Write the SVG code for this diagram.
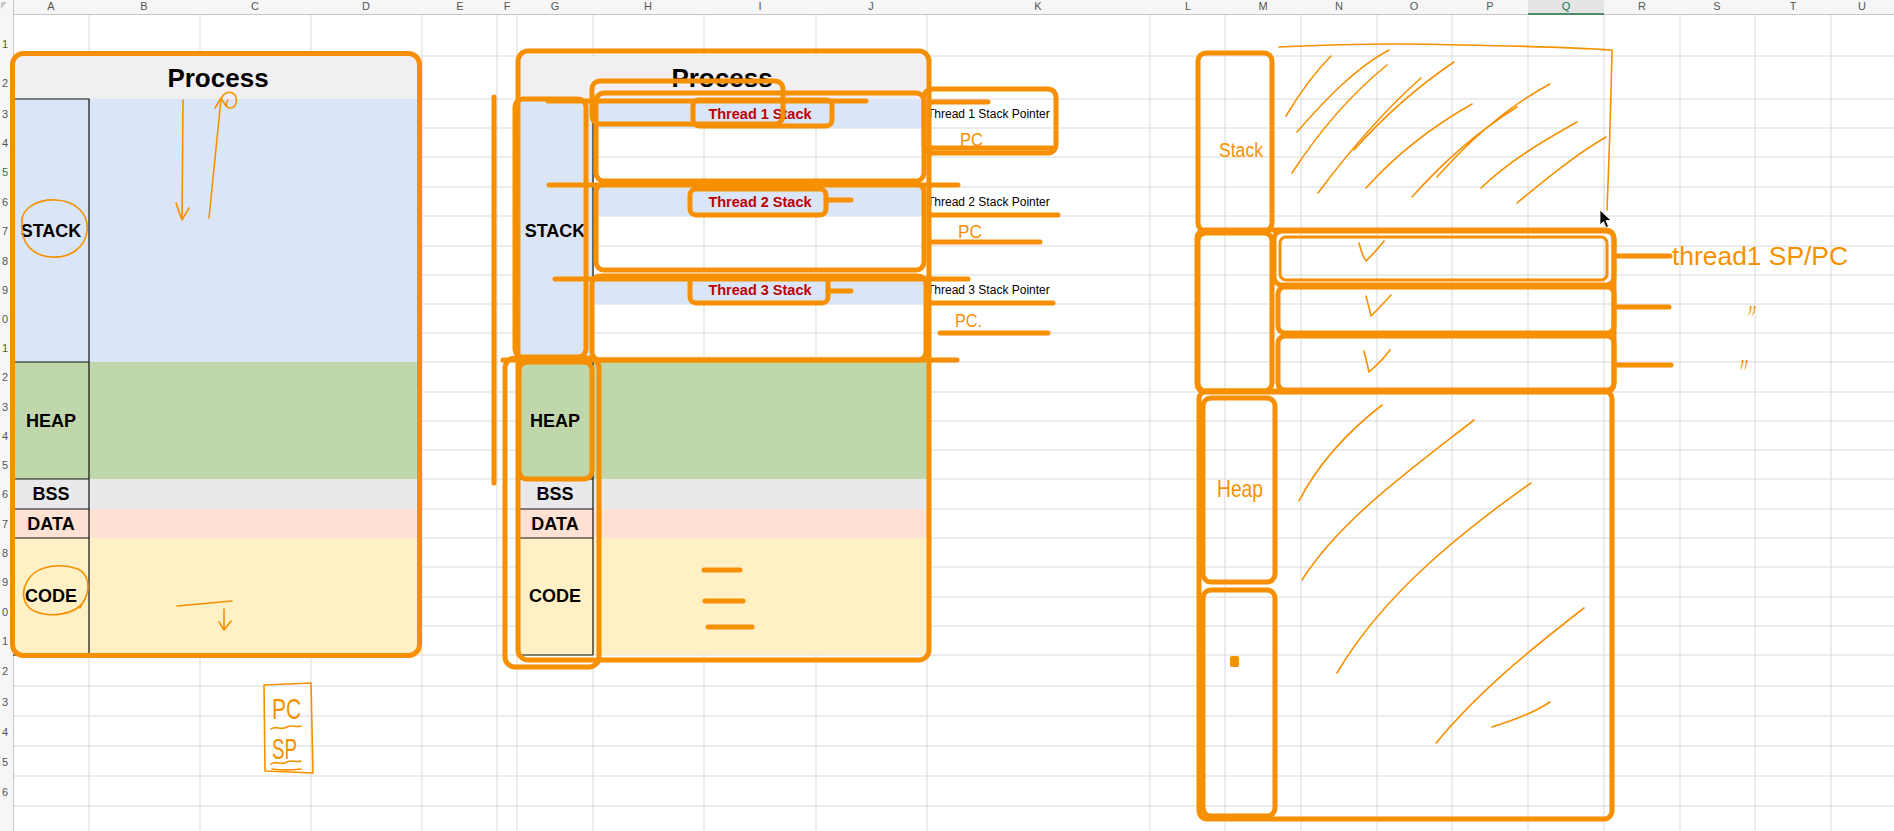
<svg xmlns="http://www.w3.org/2000/svg" width="1894" height="831" viewBox="0 0 1894 831">
<style>
.g{stroke:#d9d9d9;stroke-width:1}
.hdr{font-family:"Liberation Sans",Arial,sans-serif;font-size:11px;fill:#555;text-anchor:middle}
.rn{font-family:"Liberation Sans",Arial,sans-serif;font-size:11px;fill:#555;text-anchor:end}
.blk{stroke:#111;stroke-width:1.2;fill:none}
.lbl{font-family:"Liberation Sans",Arial,sans-serif;font-weight:bold;font-size:18px;fill:#000;text-anchor:middle}
.ttl{font-family:"Liberation Sans",Arial,sans-serif;font-weight:bold;font-size:26px;fill:#000;text-anchor:middle}
.red{font-family:"Liberation Sans",Arial,sans-serif;font-weight:bold;font-size:14.5px;fill:#c00000;text-anchor:middle}
.spt{font-family:"Liberation Sans",Arial,sans-serif;font-size:12px;fill:#000}
.o{fill:none;stroke:#f79000;stroke-width:5;stroke-linecap:round;stroke-linejoin:round}
.o3{fill:none;stroke:#f79000;stroke-width:3;stroke-linecap:round;stroke-linejoin:round}
.h{fill:none;stroke:#f79000;stroke-width:1.6;stroke-linecap:round;stroke-linejoin:round}
.hw{font-family:"Liberation Sans",Arial,sans-serif;fill:#f79000}
</style>
<rect width="1894" height="831" fill="#ffffff"/>
<g id="sheet-grid">
<path class="g" d="M89,14V831M200,14V831M311,14V831M422,14V831M497,14V831M517,14V831M593,14V831M704,14V831M816,14V831M927,14V831M1150,14V831M1225,14V831M1301,14V831M1377,14V831M1452,14V831M1528,14V831M1604,14V831M1680,14V831M1755,14V831M1831,14V831"/>
<path class="g" d="M13,56H1894M13,99H1894M13,128H1894M13,157H1894M13,187H1894M13,216H1894M13,246H1894M13,275H1894M13,304H1894M13,333H1894M13,362H1894M13,392H1894M13,421H1894M13,450H1894M13,479H1894M13,509H1894M13,538H1894M13,567H1894M13,597H1894M13,626H1894M13,655H1894M13,686H1894M13,716H1894M13,746H1894M13,776H1894M13,806H1894"/>
<rect x="0" y="0" width="1894" height="14" fill="#f6f6f6"/>
<rect x="1528" y="0" width="76" height="14" fill="#e4e4e4"/>
<path d="M0,14.5H1894" stroke="#c6c6c6" stroke-width="1"/>
<rect x="0" y="14" width="13" height="817" fill="#f6f6f6"/>
<path d="M13.5,0V831" stroke="#c6c6c6" stroke-width="1"/>
<path d="M1528,14H1604" stroke="#217346" stroke-width="1.5"/>
<path d="M1,2L7,2L1,9Z" fill="#c8c8c8"/>
<g class="hdr">
<text x="51" y="10">A</text><text x="144" y="10">B</text><text x="255" y="10">C</text><text x="366" y="10">D</text><text x="460" y="10">E</text><text x="507" y="10">F</text><text x="555" y="10">G</text><text x="648" y="10">H</text><text x="760" y="10">I</text><text x="871" y="10">J</text><text x="1038" y="10">K</text><text x="1188" y="10">L</text><text x="1263" y="10">M</text><text x="1339" y="10">N</text><text x="1414" y="10">O</text><text x="1490" y="10">P</text><text x="1566" y="10" fill="#217346">Q</text><text x="1642" y="10">R</text><text x="1717" y="10">S</text><text x="1793" y="10">T</text><text x="1862" y="10">U</text>
</g>
<g class="rn">
<text x="8" y="48">1</text><text x="8" y="87">2</text><text x="8" y="118">3</text><text x="8" y="147">4</text><text x="8" y="176" fill="#217346">5</text><text x="8" y="206">6</text><text x="8" y="235">7</text><text x="8" y="265">8</text><text x="8" y="294">9</text><text x="8" y="323">0</text><text x="8" y="352">1</text><text x="8" y="381">2</text><text x="8" y="411">3</text><text x="8" y="440">4</text><text x="8" y="469">5</text><text x="8" y="498">6</text><text x="8" y="528">7</text><text x="8" y="557">8</text><text x="8" y="586">9</text><text x="8" y="616">0</text><text x="8" y="645">1</text><text x="8" y="675">2</text><text x="8" y="706">3</text><text x="8" y="736">4</text><text x="8" y="766">5</text><text x="8" y="796">6</text>
</g>
</g>

<g id="process-left">
<rect x="13" y="56" width="409" height="43" fill="#f1eff2"/>
<rect x="13" y="99" width="409" height="263" fill="#dae6f7"/>
<rect x="13" y="362" width="409" height="117" fill="#c0d6ab"/>
<rect x="13" y="479" width="409" height="30" fill="#e9e8ea"/>
<rect x="13" y="509" width="409" height="29" fill="#fde2d4"/>
<rect x="13" y="538" width="409" height="117" fill="#fff0c6"/>
<path class="blk" d="M13,99H89V655M13,362H89M13,479H89M13,509H89M13,538H89M13,655H89"/>
<text class="ttl" x="218" y="87">Process</text>
<text class="lbl" x="51" y="237">STACK</text>
<text class="lbl" x="51" y="427">HEAP</text>
<text class="lbl" x="51" y="500">BSS</text>
<text class="lbl" x="51" y="530">DATA</text>
<text class="lbl" x="51" y="602">CODE</text>
<rect class="o" x="12.5" y="53.5" width="407" height="602" rx="11"/>
</g>

<g id="notes-left">
<path class="h" d="M22,224C20,208 38,199 56,200C76,201 89,214 87,231C85,248 70,258 52,257C32,256 21,243 22,224Z"/>
<path class="h" d="M183,100C183,140 182,180 182,219M176,203L182,220L189,208"/>
<path class="h" d="M209,218C213,178 217,138 221,99M215,108L221,98L226,106M221,99C224,92 231,90 235,95C238,101 236,108 230,108C226,108 225,103 228,100"/>
<path class="h" d="M30,577C40,565 62,563 78,569C90,575 90,590 84,601C76,615 50,618 34,611C22,605 20,590 30,577ZM80,608L84,600"/>
<path class="h" d="M177,606L232,601M224,609C224,616 224,622 224,629M219,622L224,630L231,621"/>
<path class="h" d="M264,685L311,683L313,773L265,771Z" stroke-width="2"/>
<text class="hw" x="272" y="719" font-size="30" textLength="29" lengthAdjust="spacingAndGlyphs">PC</text>
<path class="h" d="M271,729C276,725 281,731 287,727C292,724 296,728 301,726"/>
<text class="hw" x="272" y="759" font-size="30" textLength="25" lengthAdjust="spacingAndGlyphs">SP</text>
<path class="h" d="M271,764C276,760 281,766 287,762C292,759 296,763 301,761M272,769C280,770 292,770 301,769"/>
</g>

<g id="process-middle">
<rect x="517" y="56" width="410" height="43" fill="#f1eff2"/>
<rect x="517" y="99" width="76" height="263" fill="#dae6f7"/>
<rect x="593" y="99" width="334" height="29" fill="#dae6f7"/>
<rect x="593" y="187" width="334" height="29" fill="#dae6f7"/>
<rect x="593" y="275" width="334" height="29" fill="#dae6f7"/>
<rect x="517" y="362" width="410" height="117" fill="#c0d6ab"/>
<rect x="517" y="479" width="410" height="30" fill="#e9e8ea"/>
<rect x="517" y="509" width="410" height="29" fill="#fde2d4"/>
<rect x="517" y="538" width="410" height="117" fill="#fff0c6"/>
<path class="blk" d="M593,99V655M517,479H593M517,509H593M517,538H593M517,655H593"/>
<text class="ttl" x="722" y="87">Process</text>
<text class="lbl" x="555" y="237">STACK</text>
<text class="lbl" x="555" y="427">HEAP</text>
<text class="lbl" x="555" y="500">BSS</text>
<text class="lbl" x="555" y="530">DATA</text>
<text class="lbl" x="555" y="602">CODE</text>
<text class="red" x="760" y="119">Thread 1 Stack</text>
<text class="red" x="760" y="207">Thread 2 Stack</text>
<text class="red" x="760" y="295">Thread 3 Stack</text>
<text class="spt" x="927" y="118">Thread 1 Stack Pointer</text>
<text class="spt" x="927" y="206">Thread 2 Stack Pointer</text>
<text class="spt" x="927" y="294">Thread 3 Stack Pointer</text>
</g>

<g id="notes-middle">
<path class="o" d="M494,97V483"/>
<rect class="o" x="518" y="51" width="411" height="609" rx="10"/>
<rect class="o" x="515" y="99" width="71" height="258" rx="8"/>
<path class="o" d="M548,101H866M930,102H988"/>
<rect class="o" x="592" y="81" width="191" height="43" rx="8"/>
<rect class="o" x="596" y="93" width="328" height="88" rx="8"/>
<rect class="o" x="693" y="100" width="139" height="26" rx="6"/>
<rect class="o" x="924" y="89" width="132" height="64" rx="8"/>
<path class="o" d="M930,148H1052"/>
<path class="o" d="M549,185H958" stroke-width="6"/>
<rect class="o" x="596" y="184" width="328" height="86" rx="8"/>
<rect class="o" x="690" y="189" width="136" height="26" rx="6"/>
<path class="o" d="M826,200H851M930,215H1058M930,242H1040"/>
<path class="o" d="M555,279H968"/>
<rect class="o" x="592" y="276" width="334" height="84" rx="8"/>
<rect class="o" x="690" y="277" width="138" height="26" rx="6"/>
<path class="o" d="M828,291H851M930,303H1053"/>
<path class="o" d="M940,333H1048" stroke-width="8"/>
<path class="o" d="M503,360H957" stroke-width="7"/>
<rect class="o" x="505" y="358" width="94" height="309" rx="10"/>
<rect class="o" x="519" y="362" width="73" height="117" rx="8"/>
<path class="o" d="M704,570H740M705,601H743"/>
<path class="o" d="M708,627H752" stroke-width="7"/>
<text class="hw" x="960" y="146" font-size="19" textLength="23" lengthAdjust="spacingAndGlyphs">PC</text>
<text class="hw" x="958" y="238" font-size="19" textLength="24" lengthAdjust="spacingAndGlyphs">PC</text>
<text class="hw" x="955" y="327" font-size="19" textLength="27" lengthAdjust="spacingAndGlyphs">PC.</text>
</g>

<g id="memory-sketch-right">
<rect class="o" x="1198" y="53" width="74" height="178" rx="8"/>
<text class="hw" x="1219" y="157" font-size="20" textLength="44" lengthAdjust="spacingAndGlyphs">Stack</text>
<path class="h" d="M1279,47C1340,44 1400,43 1460,45C1520,46 1570,47 1612,50C1611,100 1609,160 1607,210"/>
<path class="h" d="M1286,116C1298,96 1312,75 1331,56M1297,132C1325,100 1355,68 1389,50M1292,173C1318,133 1350,95 1387,65M1318,193C1350,150 1385,110 1421,78M1354,150C1385,115 1420,85 1454,62M1366,188C1400,150 1435,125 1472,104M1412,197C1445,160 1480,130 1517,107M1437,177C1470,140 1510,105 1550,84M1481,188C1510,160 1545,140 1577,122M1517,203C1545,180 1575,155 1606,137"/>
<path d="M1600,210L1600,225L1603.5,221.5L1606,227.5L1608.5,226.5L1606,220.5L1611,220.5Z" fill="#000" stroke="#fff" stroke-width="0.8"/>
<rect class="o" x="1197" y="230" width="417" height="162" rx="8"/>
<rect class="o" x="1198" y="233" width="74" height="158" rx="8"/>
<rect class="o" x="1274" y="231" width="340" height="54" rx="8" stroke-width="6"/>
<rect class="o3" x="1280" y="237" width="327" height="43" rx="6"/>
<rect class="o" x="1278" y="287" width="336" height="46" rx="7"/>
<rect class="o" x="1278" y="336" width="336" height="54" rx="7"/>
<path class="h" d="M1359,243C1361,251 1363,257 1366,261C1372,255 1378,249 1384,241M1366,296C1368,304 1370,311 1371,316C1377,310 1385,302 1391,295M1364,351C1366,359 1368,367 1369,372C1376,366 1384,358 1390,350" stroke-width="2"/>
<path class="o" d="M1614,256H1670" stroke-width="7"/>
<path class="o" d="M1616,307H1669M1616,365H1671"/>
<text class="hw" x="1672" y="265" font-size="26" textLength="176" lengthAdjust="spacingAndGlyphs">thread1 SP/PC</text>
<text class="hw" x="1742" y="318" font-size="20">〃</text>
<text class="hw" x="1734" y="372" font-size="20">〃</text>
<rect class="o" x="1199" y="391" width="413" height="428" rx="8"/>
<rect class="o" x="1203" y="398" width="72" height="184" rx="8"/>
<rect class="o" x="1203" y="590" width="72" height="226" rx="8"/>
<text class="hw" x="1217" y="497" font-size="24" textLength="46" lengthAdjust="spacingAndGlyphs">Heap</text>
<rect x="1230" y="656" width="9" height="11" rx="2" fill="#f79000"/>
<path class="h" d="M1299,501C1320,460 1350,430 1382,405M1302,580C1340,520 1410,470 1474,420M1337,673C1380,600 1450,540 1531,483M1436,743C1480,690 1530,650 1584,608M1492,727C1515,720 1535,712 1550,702"/>
</g>
</svg>
